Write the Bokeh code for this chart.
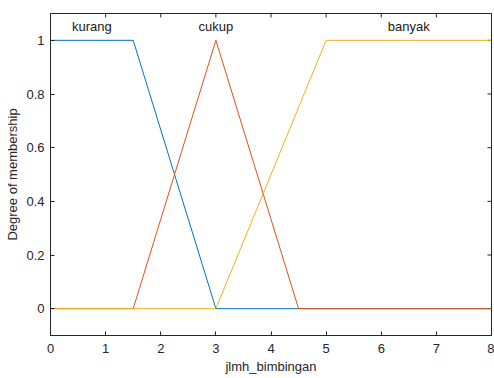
import math
from bokeh.plotting import figure
from bokeh.models import Range1d, FixedTicker, CustomJSTickFormatter, ColumnDataSource
from bokeh.core.properties import value
from bokeh.embed import file_html
from bokeh.resources import INLINE

# membership functions of jlmh_bimbingan
kurang_x = [0, 1.5, 3, 8]
kurang_y = [1, 1, 0, 0]
cukup_x = [0, 1.5, 3, 4.5, 8]
cukup_y = [0, 0, 1, 0, 0]
banyak_x = [0, 3, 5, 8]
banyak_y = [0, 0, 1, 1]

mf_names = ["kurang", "cukup", "banyak"]
mf_label_x = [0.75, 3.0, 6.5]
mf_label_y = [1.05, 1.05, 1.05]

x_ticks = [0, 1, 2, 3, 4, 5, 6, 7, 8]
y_ticks = [0, 0.2, 0.4, 0.6, 0.8, 1.0]
x_lim = (0, 8)
y_lim = (-0.1, 1.1)

FONT = "Liberation Sans"
AX = "#262626"

p = figure(width=494, height=378, output_backend="svg", toolbar_location=None,
           x_range=Range1d(*x_lim), y_range=Range1d(*y_lim),
           min_border_left=50, min_border_right=3, min_border_top=13, min_border_bottom=43)
p.background_fill_color = "white"
p.border_fill_color = "white"
p.outline_line_color = AX
p.outline_line_width = 1
p.grid.visible = False

fmt = CustomJSTickFormatter(code="return String(Math.round(tick*10)/10);")

def style(ax, ticks):
    ax.ticker = FixedTicker(ticks=ticks)
    ax.formatter = fmt
    ax.axis_line_color = AX
    ax.axis_line_width = 1
    ax.major_tick_line_color = AX
    ax.major_tick_in = 4
    ax.major_tick_out = 0
    ax.minor_tick_line_color = None
    ax.major_label_text_font = FONT
    ax.major_label_text_font_size = "13px"
    ax.major_label_text_color = AX
    ax.axis_label_text_font = FONT
    ax.axis_label_text_font_size = "13px"
    ax.axis_label_text_font_style = "normal"
    ax.axis_label_text_color = AX

xa = p.xaxis[0]
ya = p.yaxis[0]
style(xa, x_ticks)
style(ya, y_ticks)
xa.axis_label = "jlmh_bimbingan"
ya.axis_label = "Degree of membership"
xa.major_label_standoff = 8
xa.axis_label_standoff = 3
ya.major_label_standoff = 6
ya.axis_label_standoff = 3

# inward ticks on the top and right edges of the box
p.ray(x=x_ticks, y=[y_lim[1]] * len(x_ticks), length=4, length_units="screen",
      angle=-math.pi / 2, line_color=AX, line_width=1)
p.ray(x=[x_lim[1]] * len(y_ticks), y=y_ticks, length=4, length_units="screen",
      angle=math.pi, line_color=AX, line_width=1)

p.line(kurang_x, kurang_y, line_color="#0072BD", line_width=1)
p.line(cukup_x, cukup_y, line_color="#D95319", line_width=1)
p.line(banyak_x, banyak_y, line_color="#EDB120", line_width=1)

src = ColumnDataSource(dict(x=mf_label_x, y=mf_label_y, t=mf_names))
p.text(x="x", y="y", text="t", source=src, text_font=value(FONT), text_font_size="13px",
       text_color="#1a1a1a", text_align="center", text_baseline="alphabetic")

open("out.html", "w").write(file_html(p, INLINE))
